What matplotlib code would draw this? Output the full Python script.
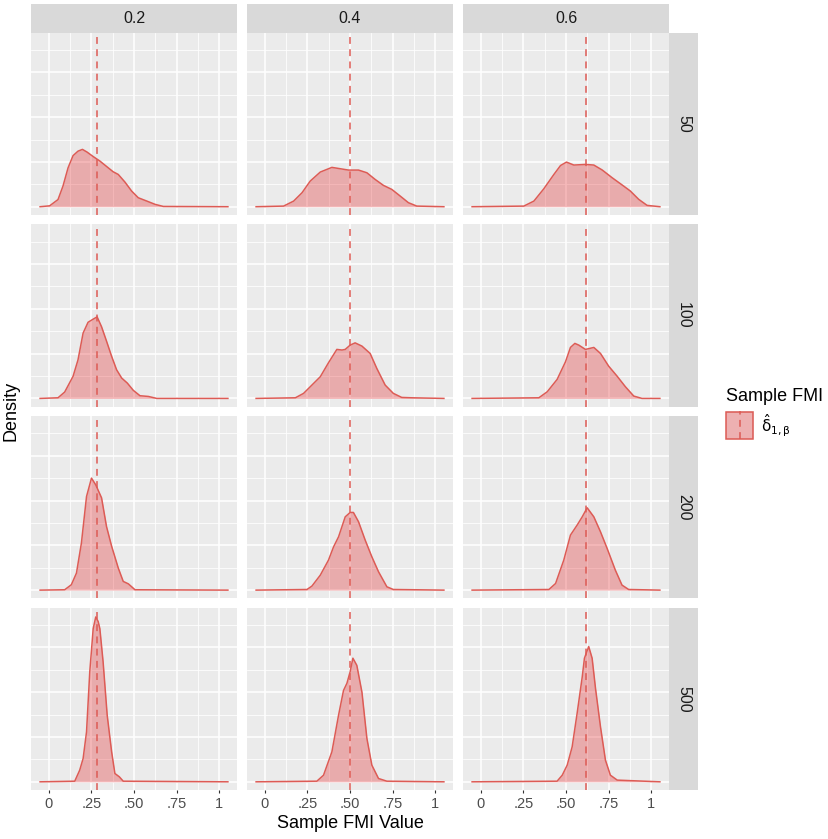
import numpy as np
import matplotlib.pyplot as plt
from matplotlib.patches import Rectangle
from matplotlib.lines import Line2D
from matplotlib.colors import to_rgba
from matplotlib.ticker import FixedLocator

plt.rcParams['font.family'] = ['Liberation Sans', 'DejaVu Sans']
plt.rcParams['mathtext.fontset'] = 'dejavusans'

# facet labels
col_labels = ['0.2', '0.4', '0.6']
row_labels = ['50', '100', '200', '500']
true_fmi = [0.285, 0.50, 0.62]   # dashed reference line per column

# density curves (x = sample FMI, y = density)
x_02_50 = [-0.05, 0.006, 0.055, 0.084, 0.114, 0.143, 0.172, 0.198, 0.225, 0.261, 0.300, 0.339,
           0.378, 0.408, 0.447, 0.486, 0.525, 0.575, 0.624, 0.672, 1.05]
d_02_50 = [0, 0.1, 0.8, 2.3, 4.35, 5.7, 6.2, 6.4, 6.1, 5.6, 5.1, 4.5,
           3.9, 3.6, 2.75, 1.75, 1.0, 0.63, 0.26, 0.03, 0]

x_04_50 = [-0.05, 0.111, 0.17, 0.219, 0.267, 0.326, 0.394, 0.443, 0.491, 0.55, 0.599, 0.647,
           0.696, 0.745, 0.794, 0.842, 0.891, 1.05]
d_04_50 = [0, 0.07, 0.63, 1.56, 2.86, 3.87, 4.39, 4.24, 4.09, 4.09, 3.79, 3.05,
           2.38, 1.93, 1.19, 0.45, 0.07, 0]

x_06_50 = [-0.05, 0.253, 0.312, 0.37, 0.429, 0.468, 0.503, 0.546, 0.614, 0.663, 0.712, 0.77,
           0.838, 0.877, 0.926, 0.975, 1.05]
d_06_50 = [0, 0.07, 0.63, 2.0, 3.6, 4.6, 4.98, 4.65, 4.72, 4.65, 4.1, 3.24,
           2.3, 1.75, 0.82, 0.15, 0]

x_02_100 = [-0.05, 0.055, 0.094, 0.143, 0.172, 0.202, 0.231, 0.261, 0.284, 0.31, 0.339, 0.369,
            0.398, 0.428, 0.461, 0.496, 0.535, 0.584, 0.633, 1.05]
d_02_100 = [0, 0.07, 0.71, 2.46, 4.3, 7.3, 8.5, 8.85, 9.1, 8.0, 6.4, 4.7,
            3.2, 2.27, 1.71, 0.9, 0.3, 0.22, 0, 0]

x_04_100 = [-0.05, 0.18, 0.228, 0.277, 0.326, 0.374, 0.423, 0.453, 0.472, 0.501, 0.53, 0.57,
            0.618, 0.657, 0.706, 0.754, 0.803, 0.862, 1.05]
d_04_100 = [0, 0.07, 0.56, 1.49, 2.42, 3.98, 5.47, 5.4, 5.47, 5.95, 6.2, 5.84,
            5.02, 3.35, 1.49, 0.56, 0.11, 0.07, 0]

x_06_100 = [-0.05, 0.341, 0.39, 0.448, 0.497, 0.526, 0.552, 0.575, 0.614, 0.663, 0.702, 0.75,
            0.799, 0.848, 0.897, 0.945, 1.05]
d_06_100 = [0, 0.07, 0.74, 2.12, 4.09, 5.69, 6.14, 5.95, 5.47, 5.69, 5.02, 3.6,
            2.49, 1.3, 0.26, 0, 0]

x_02_200 = [-0.05, 0.094, 0.133, 0.163, 0.192, 0.222, 0.251, 0.276, 0.31, 0.339, 0.369, 0.408,
            0.437, 0.467, 0.506, 1.05]
d_02_200 = [0, 0.04, 0.6, 1.9, 5.25, 10.45, 12.5, 11.75, 10.3, 7.1, 4.9, 2.46,
            0.97, 0.7, 0.04, 0]

x_04_200 = [-0.05, 0.248, 0.277, 0.326, 0.374, 0.404, 0.433, 0.472, 0.501, 0.52, 0.55, 0.589,
            0.628, 0.667, 0.716, 0.754, 1.05]
d_04_200 = [0, 0.07, 0.45, 1.67, 3.35, 4.84, 5.95, 8.18, 8.67, 8.67, 7.63, 5.58,
            3.72, 2.05, 0.37, 0.07, 0]

x_06_200 = [-0.05, 0.4, 0.439, 0.487, 0.526, 0.565, 0.595, 0.624, 0.663, 0.702, 0.741, 0.789,
            0.828, 0.867, 1.05]
d_06_200 = [0, 0.07, 0.74, 3.35, 6.14, 7.25, 8.18, 9.19, 8.18, 6.51, 4.65, 2.23,
            0.56, 0.07, 0]

x_02_500 = [-0.05, 0.153, 0.182, 0.202, 0.222, 0.241, 0.261, 0.276, 0.29, 0.3, 0.319, 0.343,
            0.369, 0.388, 0.414, 0.437, 1.05]
d_02_500 = [0, 0.07, 1.3, 2.6, 5.58, 12.3, 17.1, 18.4, 17.9, 17.1, 13.4, 7.44,
            3.35, 0.93, 0.56, 0.07, 0]

x_04_500 = [-0.05, 0.306, 0.345, 0.394, 0.433, 0.462, 0.482, 0.501, 0.517, 0.54, 0.57, 0.599,
            0.628, 0.667, 0.716, 1.05]
d_04_500 = [0, 0.07, 0.74, 3.35, 7.44, 10.2, 11.0, 12.3, 13.8, 13.0, 10.0, 4.84,
            1.86, 0.37, 0.07, 0]

x_06_500 = [-0.05, 0.448, 0.478, 0.507, 0.536, 0.565, 0.595, 0.608, 0.633, 0.653, 0.673, 0.702,
            0.731, 0.76, 0.8, 1.05]
d_06_500 = [0, 0.07, 0.74, 1.86, 3.9, 7.63, 11.7, 13.8, 15.1, 13.8, 10.4, 6.14,
            2.42, 0.74, 0.19, 0]

curves = {
    (0, 0): (x_02_50, d_02_50), (0, 1): (x_04_50, d_04_50), (0, 2): (x_06_50, d_06_50),
    (1, 0): (x_02_100, d_02_100), (1, 1): (x_04_100, d_04_100), (1, 2): (x_06_100, d_06_100),
    (2, 0): (x_02_200, d_02_200), (2, 1): (x_04_200, d_04_200), (2, 2): (x_06_200, d_06_200),
    (3, 0): (x_02_500, d_02_500), (3, 1): (x_04_500, d_04_500), (3, 2): (x_06_500, d_06_500),
}

line_col = '#DD5B55'
fill_col = to_rgba('#E41A1C', 0.3)
lw = 1.1
dash = (0, (4.5, 3.5))

W, H = 829, 839
fig = plt.figure(figsize=(W / 100, H / 100), dpi=100)

def fx(px):
    return px / W

def fy(py):
    return 1 - py / H

col_left = [30.7, 246.7, 462.7]
col_w = 206.6
row_top = [32.7, 224.4, 416.1, 607.8]
row_h = 182.3
strip = 28.7

for r in range(4):
    for c in range(3):
        ax = fig.add_axes([fx(col_left[c]), fy(row_top[r] + row_h), col_w / W, row_h / H])
        ax.set_facecolor('#EBEBEB')
        for s in ax.spines.values():
            s.set_visible(False)
        ax.set_xlim(-0.105, 1.105)
        ax.set_ylim(-0.925, 19.425)
        ax.xaxis.set_major_locator(FixedLocator([0, 0.25, 0.5, 0.75, 1]))
        ax.xaxis.set_minor_locator(FixedLocator([0.125, 0.375, 0.625, 0.875]))
        ax.yaxis.set_major_locator(FixedLocator([0, 5, 10, 15]))
        ax.yaxis.set_minor_locator(FixedLocator([2.5, 7.5, 12.5, 17.5]))
        ax.grid(which='major', color='white', lw=1.1)
        ax.grid(which='minor', color='white', lw=0.55)
        ax.set_axisbelow(True)
        ax.tick_params(axis='y', which='both', left=False, labelleft=False)
        ax.tick_params(axis='x', which='minor', bottom=False)
        if r == 3:
            ax.set_xticklabels(['0', '.25', '.50', '.75', '1'])
            ax.tick_params(axis='x', which='major', length=2.2, width=0.8, color='#333333',
                           labelsize=10.5, labelcolor='#4D4D4D', pad=2.5)
        else:
            ax.tick_params(axis='x', which='major', bottom=False, labelbottom=False)

        x, d = curves[(r, c)]
        ax.fill_between(x, d, 0, color=fill_col, lw=0)
        ax.plot(x, d, color=line_col, lw=lw, solid_joinstyle='round')
        ax.axvline(true_fmi[c], color=line_col, lw=lw, ls=dash)

# top strips
for c in range(3):
    sa = fig.add_axes([fx(col_left[c]), fy(row_top[0]), col_w / W, strip / H])
    sa.set_facecolor('#D9D9D9')
    sa.set_xticks([]); sa.set_yticks([])
    for s in sa.spines.values():
        s.set_visible(False)
    sa.text(0.5, 0.5, col_labels[c], ha='center', va='center', fontsize=11.5,
            color='#1A1A1A', transform=sa.transAxes)

# right strips
for r in range(4):
    sa = fig.add_axes([fx(669.3), fy(row_top[r] + row_h), strip / W, row_h / H])
    sa.set_facecolor('#D9D9D9')
    sa.set_xticks([]); sa.set_yticks([])
    for s in sa.spines.values():
        s.set_visible(False)
    sa.text(0.5, 0.5, row_labels[r], ha='center', va='center', fontsize=11.5,
            color='#1A1A1A', rotation=-90, transform=sa.transAxes)

# axis titles
fig.text(fx(350), fy(823), 'Sample FMI Value', ha='center', va='center', fontsize=13)
fig.text(fx(11), fy(411), 'Density', ha='center', va='center', rotation=90, fontsize=13)

# legend
fig.text(fx(726), fy(396), 'Sample FMI', ha='left', va='center', fontsize=13)
fig.add_artist(Rectangle((fx(726), fy(439)), 28 / W, 28 / H, transform=fig.transFigure,
                         facecolor='#F2F2F2', edgecolor='none'))
fig.add_artist(Rectangle((fx(726.5), fy(438.5)), 27 / W, 27 / H, transform=fig.transFigure,
                         facecolor=fill_col, edgecolor=line_col, lw=lw))
fig.add_artist(Line2D([fx(740), fx(740)], [fy(439), fy(411)], transform=fig.transFigure,
                      color=line_col, lw=lw, ls=dash))
fig.text(fx(761), fy(426), r'$\hat{\mathrm{\delta}}_{\mathrm{1,\beta}}$', ha='left',
         va='center', fontsize=11)

fig.savefig('out.png', dpi=100)
